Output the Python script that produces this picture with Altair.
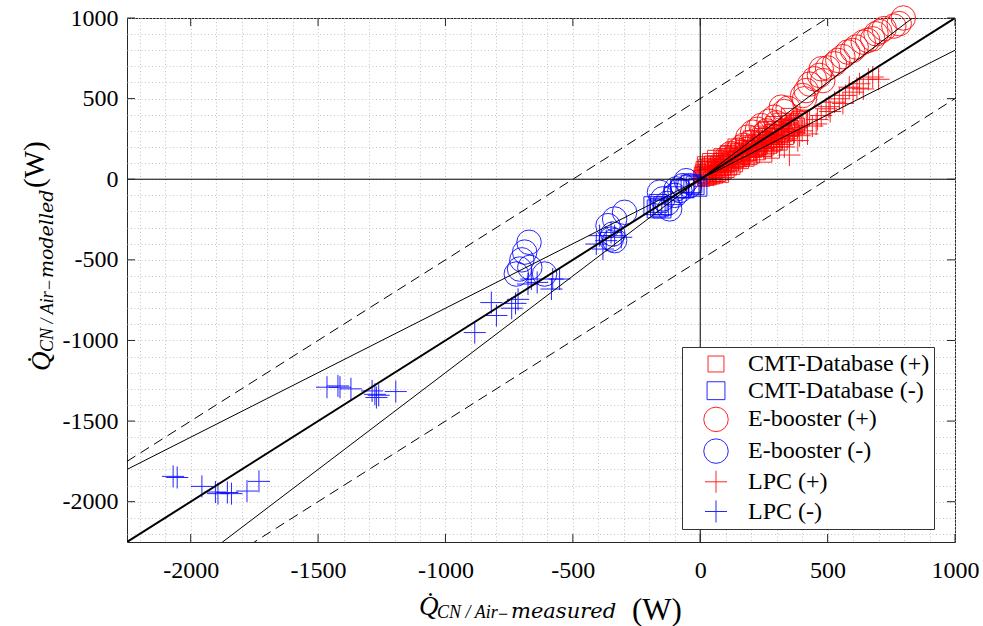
import altair as alt
import pandas as pd

# ---------------- data ----------------
series_names = ["CMT-Database (+)", "CMT-Database (-)", "E-booster (+)",
                "E-booster (-)", "LPC (+)", "LPC (-)"]

cmt_pos = [(8, 25), (15, 60), (22, 10), (30, 45), (38, 80), (45, 20), (52, 55), (60, 95),
           (68, 35), (75, 70), (82, 110), (90, 50), (98, 90), (105, 130), (112, 75), (120, 105),
           (128, 150), (135, 95), (142, 125), (150, 170), (158, 115), (165, 145), (172, 190),
           (180, 130), (188, 165), (195, 210), (202, 150), (210, 185), (218, 230), (225, 170),
           (232, 205), (240, 250), (248, 190), (255, 225), (262, 270), (270, 210), (278, 245),
           (285, 290), (292, 230), (300, 265), (310, 300), (320, 250), (330, 285), (340, 320),
           (350, 300), (360, 330), (372, 345), (385, 360), (398, 380), (20, 90), (40, 110),
           (60, 130), (85, 140), (110, 160), (140, 200), (170, 220), (200, 250), (230, 280),
           (260, 310), (290, 340), (320, 360), (350, 390), (250, 155), (280, 180), (310, 230),
           (12, 40), (28, 20), (35, 65), (50, 35), (65, 75), (78, 45), (92, 100), (118, 120),
           (132, 175), (155, 140), (185, 190), (215, 200), (245, 240), (275, 265), (305, 285),
           (5, 5), (18, 30), (25, 75), (33, 15), (42, 60), (48, 95), (57, 25), (63, 60),
           (72, 90), (80, 30), (88, 75), (95, 120), (102, 60), (108, 100), (115, 140),
           (125, 80), (138, 120), (148, 150), (162, 130), (168, 175), (178, 160), (192, 140),
           (198, 185), (208, 220), (222, 195), (236, 225), (244, 265), (258, 200), (266, 245),
           (282, 220), (288, 265), (296, 310), (315, 275), (325, 310), (335, 265), (345, 345),
           (355, 315), (365, 355), (378, 330), (390, 370)]
cmt_neg = [(-186, -164), (-173, -184), (-160, -174), (-147, -164), (-165, -150),
           (-150, -185), (-107, -102), (-81, -60), (-60, -60), (-40, -30), (-29, -29),
           (-20, -40), (-9, -50)]
eb_pos = [(100, 130), (120, 160), (150, 180), (187, 261), (200, 230), (206, 292), (239, 333),
          (250, 280), (260, 300), (291, 385), (300, 350), (318, 447), (330, 420), (402, 519),
          (409, 499), (416, 550), (448, 623), (468, 644), (475, 685), (481, 612), (527, 716),
          (540, 737), (579, 789), (598, 799), (612, 820), (657, 861), (677, 871), (690, 902),
          (722, 934), (781, 965), (797, 1000), (170, 210), (225, 310), (270, 360), (345, 440),
          (430, 590), (500, 690), (560, 760), (640, 850), (705, 915), (760, 950)]
eb_neg = [(-672, -391), (-689, -452), (-700, -500), (-709, -557), (-722, -588), (-669, -547),
          (-611, -588), (-297, -205), (-336, -247), (-362, -288), (-343, -340), (-349, -371),
          (-336, -381), (-160, -81), (-147, -122), (-130, -150), (-120, -184), (-100, -100),
          (-94, -60), (-80, -70), (-68, -40), (-55, -9), (-42, -40)]
lpc_pos = [(150, 120), (180, 140), (220, 170), (250, 190), (260, 230), (280, 200), (300, 230),
           (320, 250), (330, 200), (350, 150), (350, 270), (370, 290), (383, 240), (400, 300),
           (421, 281), (440, 330), (455, 343), (475, 395), (494, 437), (510, 420), (527, 478),
           (546, 499), (560, 470), (585, 571), (600, 540), (625, 592), (640, 560), (660, 620),
           (677, 634), (700, 620), (390, 270), (460, 370), (505, 450), (570, 520), (615, 565)]
lpc_neg = [(-2069, -1843), (-2053, -1850), (-1956, -1905), (-1903, -1940), (-1893, -1950),
           (-1856, -1943), (-1840, -1950), (-1779, -1934), (-1732, -1874),
           (-1465, -1290), (-1422, -1282), (-1414, -1290), (-1371, -1300), (-1288, -1313),
           (-1277, -1334), (-1271, -1354), (-1262, -1340), (-1195, -1317),
           (-885, -951), (-820, -765), (-800, -845), (-740, -800), (-725, -770), (-715, -745),
           (-676, -650), (-663, -619), (-640, -640), (-584, -681), (-579, -619), (-552, -619),
           (-408, -402), (-395, -350), (-382, -433), (-369, -381), (-350, -330), (-336, -350),
           (-310, -360)]

# reference lines: (slope, offset) of y = slope * x + offset
ref_thick = [(1.0, 0.0)]
ref_thin = [(1.2, 0.0), (0.8, 0.0)]
ref_dashed = [(1.0, 500.0), (1.0, -500.0)]

x_ticks = [-2000, -1500, -1000, -500, 0, 500, 1000]
y_ticks = [-2000, -1500, -1000, -500, 0, 500, 1000]
grid_vals_x = list(range(-2200, 1001, 100))
grid_vals_y = list(range(-2200, 1001, 100))
x_lo, x_hi = -2250, 1000
y_lo, y_hi = -2250, 1000

# ---------------- styling ----------------
W, H = 828, 524
RED, BLUE = "#ff0000", "#0000ff"
SYM = 600  # symbol box (~24.5 px); shapes below are drawn relative to it


def square_path(r):
    return f"M{-r},{-r}L{r},{-r}L{r},{r}L{-r},{r}Z"


def plus_path(r):
    return f"M{-r},0L{r},0M0,{-r}L0,{r}"


series_colors = [RED, BLUE, RED, BLUE, RED, BLUE]
series_shapes = [square_path(0.65), square_path(0.73), "circle",
                 "circle", plus_path(0.9), plus_path(0.9)]
SERIF = "Liberation Serif"
SUBF = "DejaVu Serif"

rows = []
for name, pts in zip(series_names, [cmt_pos, cmt_neg, eb_pos, eb_neg, lpc_pos, lpc_neg]):
    for px, py in pts:
        rows.append({"x": px, "y": py, "series": name})
pts_df = pd.DataFrame(rows)


def line_df(defs):
    out = []
    for i, (m, b) in enumerate(defs):
        for xv in (x_lo, x_hi):
            out.append({"x": xv, "y": m * xv + b, "id": i})
    return pd.DataFrame(out)


xs = alt.Scale(domain=[x_lo, x_hi], nice=False, zero=False)
ys = alt.Scale(domain=[y_lo, y_hi], nice=False, zero=False)
lab = "datum.value % 500 == 0 ? '' + datum.value : ''"
xaxis = alt.Axis(values=grid_vals_x, grid=True, gridDash=[1, 2.5], gridColor="#c4c4c4",
                 gridWidth=1, ticks=False, domain=False, labelExpr=lab, labelOverlap=False,
                 labelFlush=False, labelFont=SERIF, labelFontSize=24, labelColor="black",
                 labelPadding=16, title=None)
yaxis = alt.Axis(values=grid_vals_y, grid=True, gridDash=[1, 2.5], gridColor="#c4c4c4",
                 gridWidth=1, ticks=False, domain=False, labelExpr=lab, labelOverlap=False,
                 labelFlush=False, labelFont=SERIF, labelFontSize=24, labelColor="black",
                 labelPadding=9, title=None)


def X():
    return alt.X("x:Q", scale=xs, axis=xaxis)


def Y():
    return alt.Y("y:Q", scale=ys, axis=yaxis)


points = alt.Chart(pts_df).mark_point(filled=False, strokeWidth=1, opacity=0.85, size=SYM).encode(
    x=X(), y=Y(),
    color=alt.Color("series:N", scale=alt.Scale(domain=series_names, range=series_colors),
                    legend=alt.Legend(title=None)),
    shape=alt.Shape("series:N", scale=alt.Scale(domain=series_names, range=series_shapes),
                    legend=alt.Legend(title=None)),
)

zero_x = alt.Chart(pd.DataFrame({"x": [0]})).mark_rule(color="black", strokeWidth=1).encode(x=X())
zero_y = alt.Chart(pd.DataFrame({"y": [0]})).mark_rule(color="black", strokeWidth=1).encode(y=Y())

thick = alt.Chart(line_df(ref_thick)).mark_line(color="black", strokeWidth=2, clip=True).encode(
    x=X(), y=Y(), detail="id:N")
thin = alt.Chart(line_df(ref_thin)).mark_line(color="black", strokeWidth=1, clip=True).encode(
    x=X(), y=Y(), detail="id:N")
dashed = alt.Chart(line_df(ref_dashed)).mark_line(color="black", strokeWidth=1, strokeDash=[10, 6],
                                                  clip=True).encode(x=X(), y=Y(), detail="id:N")

xt_df = pd.DataFrame({"x": x_ticks})
yt_df = pd.DataFrame({"y": y_ticks})
tick_b = alt.Chart(xt_df).mark_rule(color="#262626").encode(x=X(), y=alt.value(H), y2=alt.value(H - 8))
tick_t = alt.Chart(xt_df).mark_rule(color="#262626").encode(x=X(), y=alt.value(0), y2=alt.value(8))
tick_l = alt.Chart(yt_df).mark_rule(color="#262626").encode(y=Y(), x=alt.value(0), x2=alt.value(8))
tick_r = alt.Chart(yt_df).mark_rule(color="#262626").encode(y=Y(), x=alt.value(W - 8), x2=alt.value(W))


# axis titles built from text pieces (subscripts)
def txt(s, x, y, size, italic=True, angle=0, font=SERIF):
    return alt.Chart(pd.DataFrame({"t": [s]})).mark_text(
        font=font, fontSize=size, fontStyle="italic" if italic else "normal",
        align="left", baseline="alphabetic", angle=angle, color="black").encode(
        text="t:N", x=alt.value(x), y=alt.value(y))


L, T = 127, 18
xt_parts = [
    txt("Q\u0307", 419 - L, 615 - T, 27),
    txt("CN / Air", 437 - L, 618 - T, 18),
    txt("\u2212", 498 - L, 620 - T, 18, italic=False),
    txt("measured", 511 - L, 618 - T, 21, font=SUBF),
    txt("(W)", 632 - L, 620 - T, 31, italic=False),
]
yt_parts = [
    txt("Q\u0307", 50 - L, 371 - T, 27, angle=270),
    txt("CN / Air", 53 - L, 352 - T, 18, angle=270),
    txt("\u2212", 55 - L, 290 - T, 18, italic=False, angle=270),
    txt("modelled", 53 - L, 278 - T, 19, angle=270, font=SUBF),
    txt("(W)", 44 - L, 188 - T, 29, italic=False, angle=270),
]

chart = alt.layer(
    points, zero_x, zero_y, thin, dashed, thick, tick_b, tick_t, tick_l, tick_r,
    *xt_parts, *yt_parts
).properties(
    width=W, height=H,
    autosize=alt.AutoSizeParams(type="none"),
    padding={"left": L, "top": T, "right": 983 - L - W, "bottom": 626 - T - H},
    background="white",
).configure_axis(
    labelFont=SERIF, labelFontSize=24, labelColor="black"
).configure_view(
    stroke="#262626", strokeWidth=1
).configure_legend(
    orient="none", legendX=555, legendY=329,
    strokeColor="#333333", fillColor="white", padding=4, cornerRadius=0,
    labelFont=SERIF, labelFontSize=24, labelColor="black", labelLimit=400,
    symbolOffset=17, labelOffset=19, rowPadding=1.7, symbolStrokeWidth=1,
    symbolSize=SYM,
)

chart.save("out.html", embed_options={"renderer": "svg", "actions": False})
